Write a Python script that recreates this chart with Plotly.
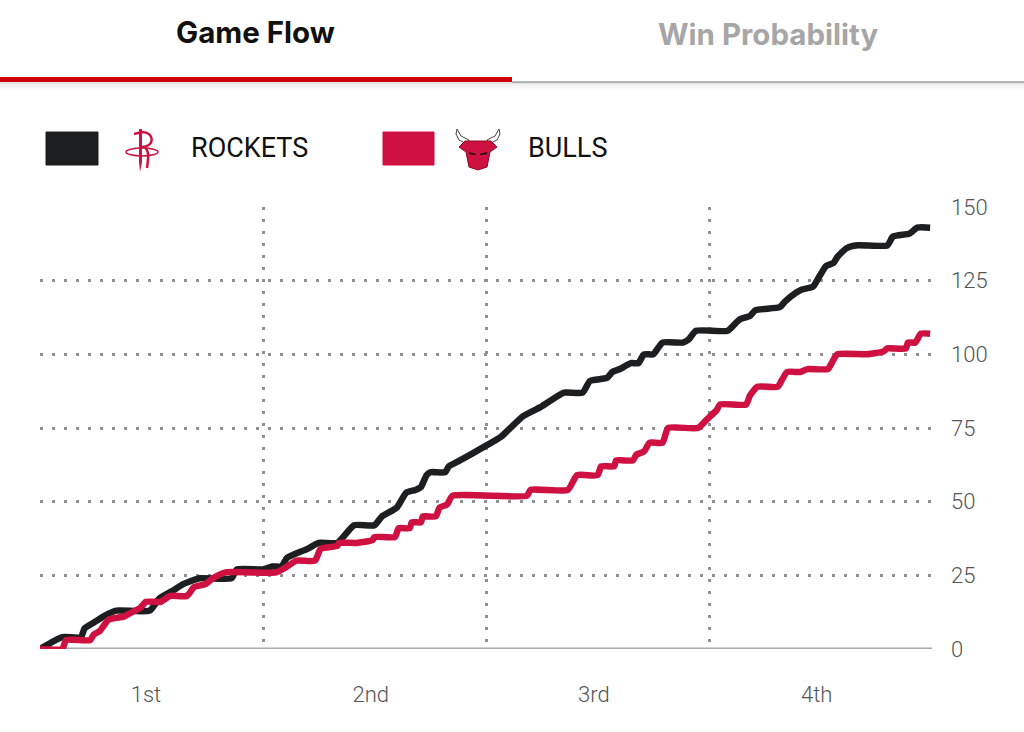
import plotly.graph_objs as go

# game clock in minutes (0-48) and running score
rockets_minutes = [0, 1.2, 2.2, 2.4, 2.9, 3.4, 4.1, 5.9, 6.4, 7.2, 7.7, 8.6, 10.3, 10.6,
                   12.0, 12.5, 13.0, 13.3, 14.4, 15.0, 16.0, 16.9, 18.0, 18.4, 19.2, 19.7,
                   20.2, 20.5, 20.8, 21.0, 21.8, 22.0, 22.6, 24.0, 24.8, 26.0, 26.9, 27.4,
                   28.2, 29.2, 29.6, 30.5, 30.8, 31.2, 31.8, 32.2, 32.5, 33.0, 33.5, 34.6,
                   34.9, 35.3, 37.0, 37.5, 37.7, 38.2, 38.5, 39.8, 40.1, 40.7, 41.0, 41.6,
                   41.9, 42.3, 42.7, 42.9, 43.4, 44.0, 45.6, 45.9, 46.8, 47.2, 47.9]
rockets_score = [0, 4, 4, 7, 9, 11, 13, 13, 17, 20, 22, 24, 24, 27,
                 27, 28, 28, 31, 34, 36, 36, 42, 42, 45, 48, 53,
                 54, 55, 59, 60, 60, 62, 64, 69, 72, 79, 82, 84,
                 87, 87, 91, 92, 94, 95, 97, 97, 100, 100, 104, 104,
                 105, 108, 108, 111, 112, 113, 115, 116, 118, 121, 122, 123,
                 126, 130, 131, 133, 136, 137, 137, 140, 141, 143, 143]

bulls_minutes = [0, 1.2, 1.4, 2.7, 2.9, 3.2, 3.7, 4.5, 4.8, 5.4, 5.7, 6.5, 7.0, 7.9,
                 8.3, 8.9, 9.3, 10.0, 12.7, 13.3, 13.8, 14.8, 15.1, 16.0, 16.1, 17.0,
                 17.9, 18.0, 19.1, 19.3, 19.9, 20.0, 20.5, 20.6, 21.3, 21.5, 21.9, 22.2,
                 26.2, 26.4, 28.4, 28.9, 30.0, 30.2, 30.9, 31.0, 31.9, 32.1, 32.5, 32.8,
                 33.5, 33.8, 35.4, 35.9, 36.4, 36.6, 38.0, 38.2, 38.6, 39.7, 39.9, 40.2,
                 40.9, 41.3, 42.4, 42.6, 42.9, 44.5, 45.4, 45.6, 46.6, 46.7, 47.1, 47.4, 47.9]
bulls_score = [0, 0, 3, 3, 5, 6, 10, 11, 12, 14, 16, 16, 18, 18,
               21, 22, 24, 26, 26, 28, 30, 30, 34, 35, 36, 36,
               37, 38, 38, 41, 41, 43, 43, 45, 45, 48, 49, 52,
               52, 54, 54, 59, 59, 62, 62, 64, 64, 66, 67, 70,
               70, 75, 75, 78, 81, 83, 83, 86, 89, 89, 91, 94,
               94, 95, 95, 97, 100, 100, 101, 102, 102, 104, 104, 107, 107]

score_ticks = [0, 25, 50, 75, 100, 125, 150]
quarter_lines = [12, 24, 36]
quarter_label_pos = [5.7, 17.8, 29.8, 41.8]
quarter_labels = ["1st", "2nd", "3rd", "4th"]

ROCKETS_COLOR = "#1d1e20"
BULLS_COLOR = "#ce1141"

W, H = 1024, 732
L, R, T, B = 40, 932, 207, 649


def px(x):
    return (x - L) / (R - L)


def py(y):
    return (B - y) / (B - T)


def pt(x, y):
    return f"{px(x):.5f},{py(y):.5f}"


def path(points):
    return "M " + " L ".join(pt(x, y) for x, y in points) + " Z"


def label(text, x, y, size, color, xanchor="center", family="Roboto"):
    return dict(text=text, x=px(x), y=py(y), xref="paper", yref="paper",
                xanchor=xanchor, yanchor="middle", showarrow=False,
                font=dict(family=family, size=size, color=color))


fig = go.Figure()
fig.add_trace(
    go.Scatter(
        name="ROCKETS",
        x=rockets_minutes,
        y=rockets_score,
        mode="lines",
        line={"color": ROCKETS_COLOR, "width": 6.5, "shape": "spline", "smoothing": 0.5},
        hovertemplate="Score: %{y}",
    )
)
fig.add_trace(
    go.Scatter(
        name="BULLS",
        x=bulls_minutes,
        y=bulls_score,
        mode="lines",
        line={"color": BULLS_COLOR, "width": 6.5, "shape": "spline", "smoothing": 0.5},
        hovertemplate="Score: %{y}",
    )
)

shapes = []
# tab bar
shapes.append(dict(type="rect", xref="paper", yref="paper", x0=px(0), x1=px(512),
                   y0=py(82), y1=py(77), fillcolor="#d00000", line_width=0, layer="above"))
shapes.append(dict(type="rect", xref="paper", yref="paper", x0=px(512), x1=px(W),
                   y0=py(83), y1=py(81), fillcolor="#bdbdbd", line_width=0, layer="above"))
for i, a in enumerate([0.10, 0.06, 0.035, 0.015]):
    shapes.append(dict(type="rect", xref="paper", yref="paper", x0=px(0), x1=px(W),
                       y0=py(84 + 2 * i), y1=py(82 + 2 * i),
                       fillcolor=f"rgba(0,0,0,{a})", line_width=0, layer="above"))
# legend swatches
shapes.append(dict(type="rect", xref="paper", yref="paper", x0=px(46), x1=px(98),
                   y0=py(165), y1=py(132), fillcolor=ROCKETS_COLOR,
                   line=dict(color=ROCKETS_COLOR, width=1)))
shapes.append(dict(type="rect", xref="paper", yref="paper", x0=px(383), x1=px(434),
                   y0=py(165), y1=py(132), fillcolor=BULLS_COLOR,
                   line=dict(color=BULLS_COLOR, width=1)))
# rockets logo: tall narrow R with a ring
shapes.append(dict(type="path", xref="paper", yref="paper",
                   path=path([(139, 129), (142, 129), (142, 162), (140, 172), (139, 162)]),
                   fillcolor=BULLS_COLOR, line_width=0))
shapes.append(dict(type="path", xref="paper", yref="paper",
                   path=f"M {pt(134, 134)} L {pt(142, 132)} C {pt(155, 132)} {pt(155, 147)} {pt(142, 147)}",
                   line=dict(color=BULLS_COLOR, width=2.5)))
shapes.append(dict(type="path", xref="paper", yref="paper",
                   path=f"M {pt(144, 147)} C {pt(150, 150)} {pt(148, 160)} {pt(147, 168)}",
                   line=dict(color=BULLS_COLOR, width=2.5)))
shapes.append(dict(type="circle", xref="paper", yref="paper", x0=px(126), x1=px(158),
                   y0=py(156), y1=py(148), line=dict(color=BULLS_COLOR, width=1.5)))
# bulls logo: horns and head
shapes.append(dict(type="path", xref="paper", yref="paper",
                   path=path([(467, 144), (459, 140), (456, 134), (457, 129), (461, 136), (469, 140)]),
                   fillcolor="white", line=dict(color="#444", width=1)))
shapes.append(dict(type="path", xref="paper", yref="paper",
                   path=path([(489, 144), (497, 140), (500, 134), (499, 129), (495, 136), (487, 140)]),
                   fillcolor="white", line=dict(color="#444", width=1)))
shapes.append(dict(type="path", xref="paper", yref="paper",
                   path=path([(465, 141), (491, 141), (497, 147), (490, 152), (487, 167),
                              (478, 170), (469, 167), (466, 152), (459, 147)]),
                   fillcolor=BULLS_COLOR, line=dict(color="#8a0a26", width=1)))
shapes.append(dict(type="path", xref="paper", yref="paper",
                   path=path([(469, 152), (476, 154), (476, 155), (469, 154)]),
                   fillcolor="#111", line_width=0))
shapes.append(dict(type="path", xref="paper", yref="paper",
                   path=path([(487, 152), (480, 154), (480, 155), (487, 154)]),
                   fillcolor="#111", line_width=0))
# baseline at zero
shapes.append(dict(type="line", xref="x", yref="y", x0=0, x1=48, y0=0, y1=0,
                   line=dict(color="#a8a8a8", width=3), layer="below"))

annotations = [
    label("<b>Game Flow</b>", 255, 32, 29.5, "#111", family="Inter"),
    label("<b>Win Probability</b>", 768, 34, 29.5, "#a6a6a6", family="Inter"),
    label("ROCKETS", 189, 148, 27, "#111", xanchor="left"),
    label("BULLS", 526, 148, 27, "#111", xanchor="left"),
]

fig.update_layout(
    width=W,
    height=H,
    margin=dict(l=L, r=W - R, t=T, b=H - B, pad=0),
    paper_bgcolor="white",
    plot_bgcolor="white",
    showlegend=False,
    shapes=shapes,
    annotations=annotations,
    hovermode="x",
    xaxis=dict(
        range=[0, 48],
        tickvals=quarter_label_pos,
        ticktext=quarter_labels,
        showgrid=False,
        zeroline=False,
        showline=False,
        ticks="",
        ticklabelstandoff=30,
        tickfont=dict(family="Roboto", size=22, color="#555", weight=300),
        minor=dict(tickvals=quarter_lines, showgrid=True, gridcolor="#909090",
                   gridwidth=2.5, griddash="2.5px,9.5px"),
    ),
    yaxis=dict(
        range=[0, 150],
        side="right",
        tickvals=score_ticks,
        showgrid=True,
        gridcolor="#909090",
        gridwidth=2.5,
        griddash="2.5px,9.5px",
        zeroline=False,
        showline=False,
        ticks="",
        ticklabelstandoff=18,
        tickfont=dict(family="Roboto", size=22, color="#555", weight=300),
    ),
)

fig.write_html("out.html", config={"displayModeBar": False},
               post_script="document.body.style.margin='0px';")
